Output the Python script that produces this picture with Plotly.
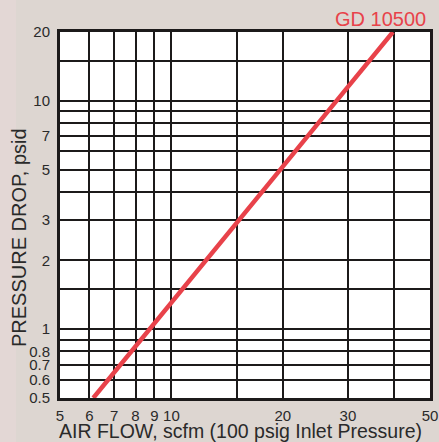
import plotly.graph_objects as go

# Data (log-log)
air_flow = [6.15, 10, 15, 20, 30, 39.7]
pressure_drop = [0.5, 1.3, 2.92, 5.15, 11.5, 20.0]
series_name = "GD 10500"

x_grid = [5, 6, 7, 8, 9, 10, 15, 20, 30, 40, 50]
x_labels = ["5", "6", "7", "8", "9", "10", "", "20", "30", "", "50"]
y_grid = [0.5, 0.6, 0.7, 0.8, 0.9, 1, 1.5, 2, 3, 4, 5, 6, 7, 8, 9, 10, 15, 20]
y_labels = ["0.5", "0.6", "0.7", "0.8", "", "1", "", "2", "3", "", "5", "", "7", "", "", "10", "", "20"]
x_title = "AIR FLOW, scfm (100 psig Inlet Pressure)"
y_title = "PRESSURE DROP, psid"

RED = "#e8424a"
INK = "#1c1a1a"
TXT = "#2a2a2a"
FONT = "Liberation Sans, Arial, sans-serif"

W, H = 439, 442
L, R, T, B = 60, 9, 32, 44
pw, ph = W - L - R, H - T - B

def px_x(p):
    return (p - L) / pw

def px_y(p):
    return (H - B - p) / ph

fig = go.Figure()
fig.add_trace(go.Scatter(
    x=air_flow, y=pressure_drop, mode="lines",
    line=dict(color=RED, width=4.5), name=series_name, showlegend=False,
    hoverinfo="skip",
))

fig.update_layout(
    width=W, height=H,
    margin=dict(l=L, r=R, t=T, b=B),
    paper_bgcolor="#ddd6d1",
    plot_bgcolor="white",
    font=dict(family=FONT, color=TXT),
    shapes=[dict(
        type="rect", xref="paper", yref="paper",
        x0=px_x(0), x1=px_x(16), y0=px_y(H), y1=px_y(0),
        fillcolor="#e3d7d5", line=dict(width=0), layer="below",
    )],
    annotations=[
        dict(text=series_name, xref="paper", yref="paper",
             x=px_x(428), y=px_y(19), xanchor="right", yanchor="middle",
             showarrow=False, font=dict(size=20, color=RED, family=FONT)),
        dict(text=x_title, xref="paper", yref="paper",
             x=px_x(240), y=px_y(431), xanchor="center", yanchor="middle",
             showarrow=False, font=dict(size=19.5, color=TXT, family=FONT)),
        dict(text=y_title, xref="paper", yref="paper",
             x=px_x(19), y=px_y(238), xanchor="center", yanchor="middle",
             textangle=-90, showarrow=False,
             font=dict(size=20, color=TXT, family=FONT)),
    ],
)
fig.update_xaxes(
    type="log", range=[0.69897, 1.69897], automargin=False,
    tickvals=x_grid, ticktext=x_labels, tickfont=dict(size=15),
    showgrid=True, gridcolor=INK, gridwidth=2,
    showline=True, linecolor=INK, linewidth=3, mirror=True,
    ticks="", ticklen=0, ticklabelstandoff=2,
    zeroline=False,
)
fig.update_yaxes(
    type="log", range=[-0.30103, 1.30103], automargin=False,
    tickvals=y_grid, ticktext=y_labels, tickfont=dict(size=15),
    showgrid=True, gridcolor=INK, gridwidth=2,
    showline=True, linecolor=INK, linewidth=3, mirror=True,
    ticks="", ticklen=0, ticklabelstandoff=4,
    zeroline=False,
)

fig.write_html(
    "out.html",
    config={"displayModeBar": False},
    post_script="document.body.style.margin='0';document.body.style.overflow='hidden';",
)
